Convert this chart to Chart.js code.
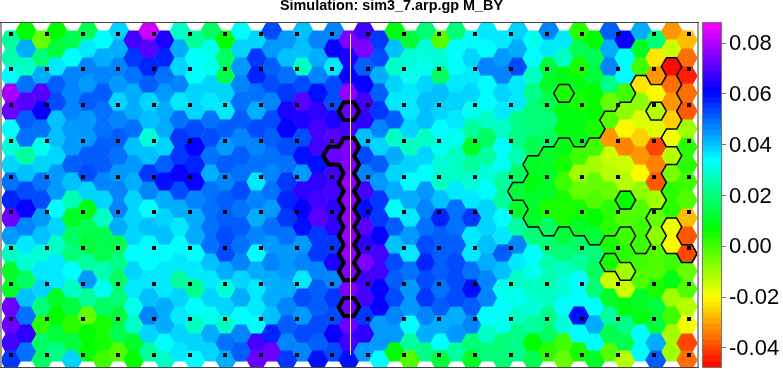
<!DOCTYPE html>
<html>
<head>
<meta charset="utf-8">
<title>sim3_7.arp.gp M_BY</title>
<script src="https://cdn.jsdelivr.net/npm/chart.js@4"></script>
<style>
  html, body { margin: 0; padding: 0; background: #fff; overflow: hidden; }
  canvas { position: absolute; top: 0; }
  #map { left: 0; }
  #bar { left: 697px; }
</style>
</head>
<body>
<canvas id="map" width="783" height="369"></canvas>
<canvas id="bar" width="86" height="369"></canvas>
<script>
const titleText = 'Simulation: sim3_7.arp.gp M_BY';

// hexagon values per column, top to bottom, in thousandths
const c00 = [24,26,34,79,73,33,30,38,48,57,71,44,28,11,11,71,72,68,55];
const c01 = [7,43,28,48,69,51,48,23,41,54,61,46,36,30,17,41,49,65,48];
const c02 = [-5,19,43,70,61,49,31,39,49,52,45,41,30,36,39,20,3,18,18];
const c03 = [7,12,36,51,53,41,41,38,45,45,35,38,28,36,36,11,7,12,22];
const c04 = [15,35,46,46,46,44,44,51,41,26,10,18,20,35,28,12,2,12,39];
const c05 = [15,36,47,44,51,44,45,51,52,38,9,15,12,24,45,23,-5,7,7];
const c06 = [34,43,46,51,48,49,50,50,47,39,27,15,14,26,31,18,5,4,0];
const c07 = [38,43,46,45,38,47,51,48,44,46,47,43,15,22,18,19,12,15,-2];
const c08 = [68,55,49,43,43,48,41,44,42,39,39,38,35,38,36,31,27,10,7];
const c09 = [83,70,57,50,38,41,30,41,55,47,33,41,35,35,37,41,46,39,24];
const c10 = [63,57,48,44,42,43,38,50,59,43,38,40,35,36,37,42,42,34,27];
const c11 = [27,43,38,46,37,48,56,55,61,52,43,36,35,37,24,39,37,38,36];
const c12 = [23,35,34,38,38,54,62,57,61,46,42,43,33,36,22,35,27,39,35];
const c13 = [18,31,31,38,37,48,52,49,43,48,48,48,48,41,36,39,31,43,38];
const c14 = [7,17,15,38,37,50,44,50,47,51,50,54,53,42,30,38,27,48,42];
const c15 = [35,38,44,46,49,51,46,51,48,52,49,50,48,47,38,43,35,47,51];
const c16 = [38,56,58,48,43,52,47,48,37,46,43,46,35,43,36,37,33,68,72];
const c17 = [53,45,51,53,46,54,51,48,46,48,44,49,44,47,43,43,41,58,72];
const c18 = [45,40,49,55,63,61,53,49,55,58,56,48,45,45,43,47,50,47,55];
const c19 = [40,40,27,53,69,63,53,59,45,66,61,60,45,47,36,52,44,54,47];
const c20 = [47,43,47,59,65,67,67,60,65,68,69,55,55,47,50,50,52,51,60];
const c21 = [47,61,37,54,52,63,70,72,67,68,66,66,55,64,46,55,53,62,53];
const c22 = [75,63,62,76,72,68,75,75,77,77,77,76,76,75,75,72,72,67,59];
const c23 = [68,75,51,61,68,66,40,54,46,67,59,69,65,75,68,67,55,65,44];
const c24 = [56,52,43,50,55,47,38,50,45,55,56,62,67,68,61,61,45,44,35];
const c25 = [9,40,28,38,37,51,28,42,38,43,35,51,40,54,50,54,46,45,7];
const c26 = [12,30,32,37,37,39,27,39,35,43,36,45,37,49,44,45,34,24,-1];
const c27 = [20,30,31,38,41,40,27,38,34,44,47,48,52,57,52,56,47,42,22];
const c28 = [-1,30,18,41,38,35,31,30,27,40,57,50,50,51,48,50,43,34,13];
const c29 = [20,33,35,37,39,37,32,28,27,36,48,48,51,53,53,52,43,45,24];
const c30 = [35,38,36,38,32,24,10,24,30,36,56,37,36,49,59,51,47,20,11];
const c31 = [36,34,46,35,35,28,17,24,30,35,38,39,40,43,47,47,35,28,20];
const c32 = [37,45,47,39,36,28,33,31,24,23,34,37,50,40,32,35,31,20,19];
const c33 = [39,43,53,37,36,22,21,26,18,12,11,24,47,37,28,31,27,21,22];
const c34 = [32,35,27,22,20,19,15,11,8,10,10,20,34,32,27,30,24,7,15];
const c35 = [46,36,12,10,15,20,18,10,11,11,4,17,19,26,26,28,22,17,2];
const c36 = [36,27,8,5,9,9,9,5,0,5,5,12,19,27,30,34,30,1,-5];
const c37 = [3,15,5,9,5,8,9,1,-11,-5,5,10,18,24,35,34,60,34,5];
const c38 = [7,15,13,6,7,5,0,-11,-5,-1,7,12,19,17,20,34,43,34,10];
const c39 = [50,43,46,22,-4,-2,-31,-14,-13,-5,2,2,4,5,-14,10,23,15,-1];
const c40 = [61,35,34,1,-9,-20,-34,-15,-13,7,-3,1,3,-11,-14,9,22,15,-13];
const c41 = [43,11,0,-23,-9,-16,-26,-32,-21,-9,-3,0,1,0,-3,10,9,34,34];
const c42 = [19,-24,-32,-21,-12,-17,-41,-34,-39,-11,-5,-8,-2,-2,5,12,13,42,51];
const c43 = [-32,-15,-47,-35,-31,-25,-18,-13,-6,3,3,-19,-20,1,9,-11,0,-11,-11];
const c44 = [-27,-35,-44,-35,-37,-11,3,3,0,-1,-27,-38,-40,-5,-3,-12,-19,-41,-36];
const hexColumns = [c00,c01,c02,c03,c04,c05,c06,c07,c08,c09,c10,c11,c12,c13,c14,c15,
  c16,c17,c18,c19,c20,c21,c22,c23,c24,c25,c26,c27,c28,c29,c30,c31,c32,c33,c34,c35,c36,
  c37,c38,c39,c40,c41,c42,c43,c44];

// outlined cells as [column, first row, last row]
const thickCells = [[21,7,7],[22,4,4],[22,6,13],[22,15,15]];
const thinCells = [[33,9,9],[34,7,10],[35,7,11],[36,6,10],[37,7,11],[38,6,11],[39,5,11],
  [40,4,8],[40,10,10],[41,3,12],[42,3,3],[42,5,9],[43,2,5],[43,7,7],
  [36,3,3],[39,13,13],[40,13,13],[43,11,12],[44,12,12]];

// station markers, in hexagon grid units
const dotX = [0,2.34,4.68,6.97,9.31,11.65,13.93,16.28,18.62,20.9,23.24,25.59,27.86,30.2,32.55,34.89,37.17,39.52,41.86,44.14];
const dotY = [-0.34,1.63,3.65,5.67,7.7,9.66,11.69,13.71,15.67,17.7];
const meridianX = [22.103, 22.103];
const meridianY = [-0.34, 17.7];

const barTicks = [-0.04,-0.02,0,0.02,0.04,0.06,0.08];
const barMin = -0.0475, barMax = 0.0879, barLevels = 64;

// rainbow: red at barMin round to magenta at barMax
function levelOf(v) {
  return Math.max(0, Math.min(barLevels - 1, Math.floor((v - barMin) / (barMax - barMin) * barLevels)));
}
function levelColor(i) {
  return `hsl(${(i + 0.5) / barLevels * 300}, 100%, 50%)`;
}

const hexCache = {};
function hexSprite(color) {
  if (hexCache[color]) return hexCache[color];
  const c = document.createElement('canvas');
  c.width = 22; c.height = 20;
  const g = c.getContext('2d');
  const s = 10.7, h = 9.4;
  g.fillStyle = color;
  g.beginPath();
  g.moveTo(11 - s, 10);
  g.lineTo(11 - s / 2, 10 - h);
  g.lineTo(11 + s / 2, 10 - h);
  g.lineTo(11 + s, 10);
  g.lineTo(11 + s / 2, 10 + h);
  g.lineTo(11 - s / 2, 10 + h);
  g.closePath();
  g.fill();
  return (hexCache[color] = c);
}

const dotSprite = document.createElement('canvas');
dotSprite.width = 4; dotSprite.height = 4;
dotSprite.getContext('2d').fillRect(0, 0, 4, 4);

const rowY = (c, r) => (c % 2 ? r - 0.5 : r);

// hexagon centres and colours
const hexPoints = [], hexStyles = [];
hexColumns.forEach((col, c) => {
  col.forEach((v, r) => {
    hexPoints.push({ x: c, y: rowY(c, r) });
    hexStyles.push(hexSprite(levelColor(levelOf(v / 1000))));
  });
});

const dotPoints = [];
dotY.forEach(y => dotX.forEach(x => dotPoints.push({ x, y })));

// edges of a group of cells, only where the neighbour is not in the group
function outline(ranges) {
  const inside = new Set();
  ranges.forEach(([c, a, b]) => { for (let r = a; r <= b; r++) inside.add(c + ':' + r); });
  const out = [];
  inside.forEach(key => {
    const [c, r] = key.split(':').map(Number);
    const up = c % 2 ? r - 1 : r;        // row index of the upper side neighbour
    const sides = [
      [c, r - 1, -1/3, -0.5, 1/3, -0.5],
      [c + 1, up, 1/3, -0.5, 2/3, 0],
      [c + 1, up + 1, 2/3, 0, 1/3, 0.5],
      [c, r + 1, 1/3, 0.5, -1/3, 0.5],
      [c - 1, up + 1, -1/3, 0.5, -2/3, 0],
      [c - 1, up, -2/3, 0, -1/3, -0.5]
    ];
    const y = rowY(c, r);
    sides.forEach(([nc, nr, x1, y1, x2, y2]) => {
      if (inside.has(nc + ':' + nr)) return;
      out.push({ x: c + x1, y: y + y1 }, { x: c + x2, y: y + y2 }, { x: null, y: null });
    });
  });
  return out;
}

const frame = {
  id: 'frame',
  // the title sits over the whole page, not over the map
  afterLayout(chart) {
    chart.titleBlock.left = 0;
    chart.titleBlock.right = chart.width;
  },
  beforeDatasetsDraw(chart) { chart.ctx.imageSmoothingEnabled = false; },
  afterDraw(chart) {
    const { ctx, chartArea: a } = chart;
    ctx.save();
    ctx.fillStyle = '#9a9a9a';
    ctx.fillRect(0, a.top, 2, a.bottom - a.top + 1);
    ctx.fillRect(a.right, a.top, 2, a.bottom - a.top + 1);
    ctx.fillStyle = '#444';
    ctx.fillRect(0, a.top - 1, a.right + 2, 1);
    ctx.fillRect(0, a.bottom, a.right + 2, 1);
    ctx.restore();
  }
};

new Chart(document.getElementById('map'), {
  type: 'scatter',
  data: {
    datasets: [
      { data: meridianX.map((x, i) => ({ x, y: meridianY[i] })), showLine: true, pointRadius: 0,
        borderColor: 'rgba(255,225,255,0.8)', borderWidth: 1, order: 0, clip: 0 },
      { data: dotPoints, pointStyle: dotSprite, pointRadius: 1, order: 1, clip: 0 },
      { data: outline(thickCells), showLine: true, pointRadius: 0, borderColor: '#000', borderWidth: 4,
        borderCapStyle: 'round', spanGaps: false, order: 2, clip: 0 },
      { data: outline(thinCells), showLine: true, pointRadius: 0, borderColor: '#000', borderWidth: 1.5,
        borderCapStyle: 'round', spanGaps: false, order: 3, clip: 0 },
      { data: hexPoints, pointStyle: c => hexStyles[c.dataIndex], pointRadius: 1, order: 4, clip: 0 }
    ]
  },
  options: {
    responsive: false,
    animation: false,
    events: [],
    layout: { autoPadding: false, padding: { left: 2, right: 86, top: 0, bottom: 2 } },
    plugins: {
      legend: { display: false },
      tooltip: { enabled: false },
      title: {
        display: true,
        text: titleText,
        color: '#000',
        font: { family: '"Liberation Sans", Arial, sans-serif', size: 14.4, weight: 'bold', lineHeight: 1 },
        padding: { top: -1, bottom: 9.6 }
      }
    },
    scales: {
      x: { type: 'linear', display: false, min: -0.586, max: 44.66 },
      y: { type: 'linear', display: false, min: -0.955, max: 18.37, reverse: true }
    }
  },
  plugins: [frame]
});

// colour bar
const bands = [];
for (let i = 0; i < barLevels; i++) {
  const step = (barMax - barMin) / barLevels;
  bands.push({
    data: [[barMin + i * step, barMin + (i + 1) * step]],
    backgroundColor: levelColor(i),
    inflateAmount: 0.6
  });
}

new Chart(document.getElementById('bar'), {
  type: 'bar',
  data: { labels: [''], datasets: bands },
  options: {
    responsive: false,
    animation: false,
    events: [],
    grouped: false,
    barPercentage: 1,
    categoryPercentage: 1,
    layout: { autoPadding: false, padding: { left: 6, top: 23, bottom: 2 } },
    plugins: { legend: { display: false }, tooltip: { enabled: false } },
    scales: {
      x: { display: false },
      y: {
        position: 'right',
        min: barMin,
        max: barMax,
        afterBuildTicks: s => { s.ticks = barTicks.map(value => ({ value })); },
        afterFit: s => { s.width = 62; s.paddingTop = 0; s.paddingBottom = 0; },
        border: { color: '#777' },
        grid: { drawOnChartArea: false, color: '#777', tickLength: 5 },
        ticks: {
          color: '#000',
          padding: 3,
          labelOffset: 1,
          font: { family: '"Liberation Sans", Arial, sans-serif', size: 22 },
          callback: v => v.toFixed(2)
        }
      }
    }
  },
  plugins: [{
    id: 'barFrame',
    afterDraw(chart) {
      const { ctx, chartArea: a } = chart;
      ctx.save();
      ctx.strokeStyle = '#777';
      ctx.lineWidth = 1;
      ctx.strokeRect(a.left - 0.5, a.top - 0.5, a.right - a.left + 1, a.bottom - a.top + 1);
      ctx.restore();
    }
  }]
});
</script>
</body>
</html>
